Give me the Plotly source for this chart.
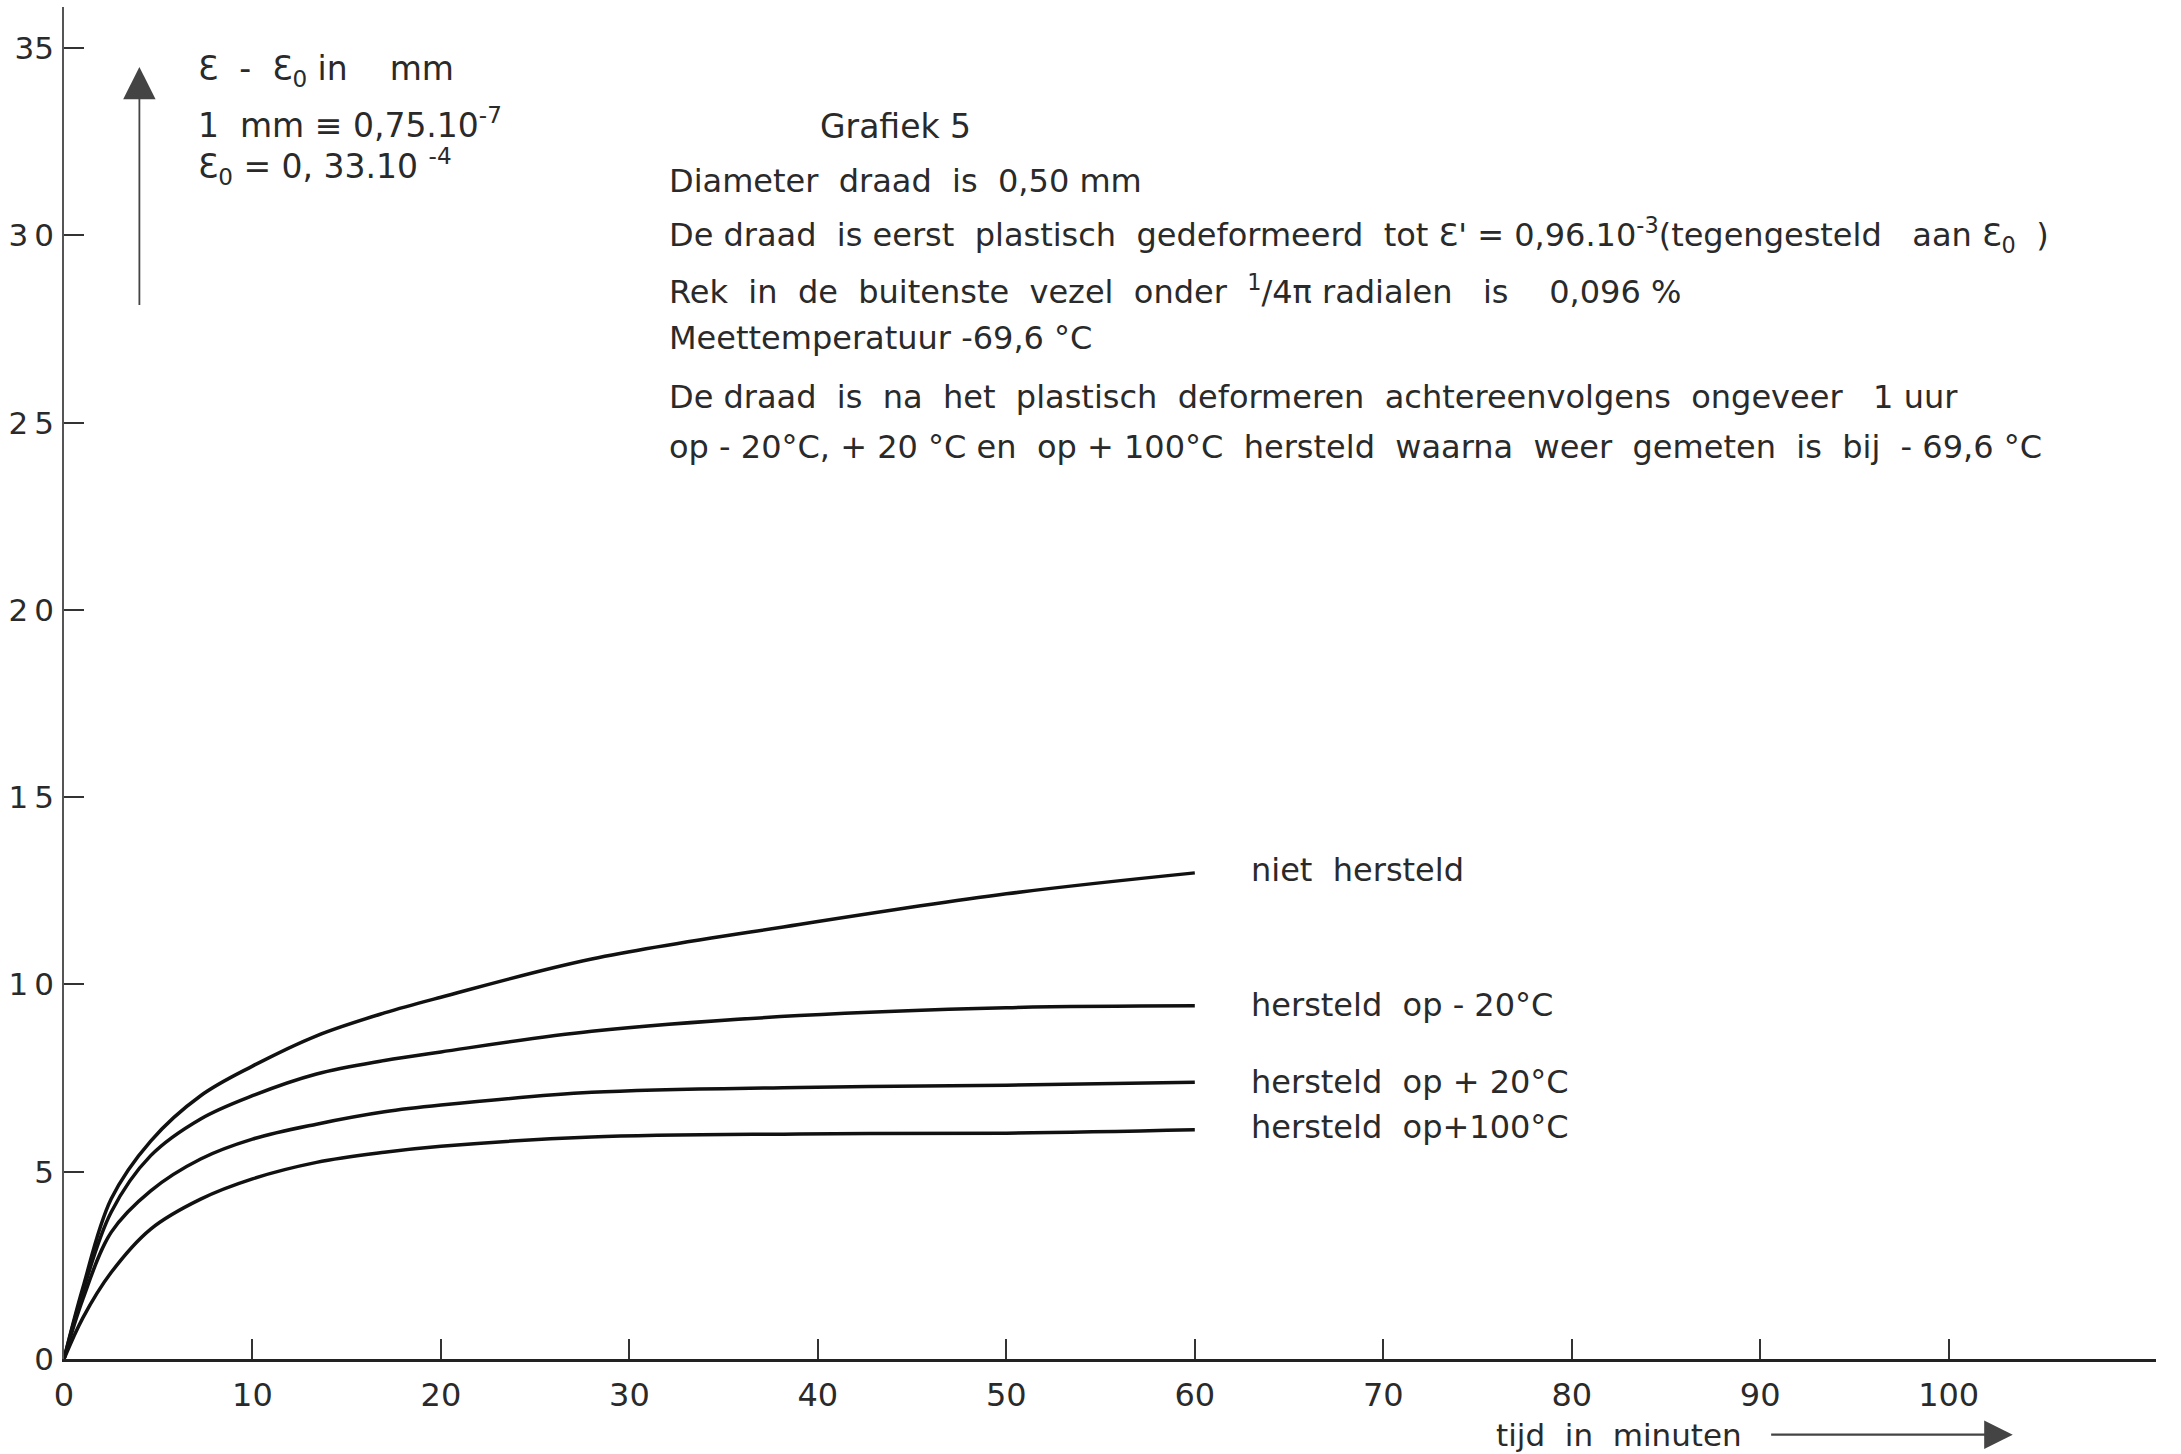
import plotly.graph_objects as go

# Time axis (minutes) at which the curves are sampled
tijd = [0, 1, 2.5, 4.6, 7.25, 10, 13.4, 17, 20, 28, 39, 50, 60]

# Strain (eps - eps0) in mm for each treatment
niet_hersteld = [0, 1.9, 4.27, 5.82, 7.03, 7.82, 8.63, 9.24, 9.66, 10.68, 11.6, 12.42, 12.98]
hersteld_min20 = [0, 1.8, 3.92, 5.43, 6.41, 7.03, 7.61, 7.97, 8.2, 8.75, 9.17, 9.38, 9.43]
hersteld_plus20 = [0, 1.6, 3.38, 4.49, 5.34, 5.87, 6.27, 6.6, 6.78, 7.12, 7.25, 7.31, 7.39]
hersteld_plus100 = [0, 1.1, 2.31, 3.47, 4.27, 4.81, 5.25, 5.52, 5.68, 5.93, 6.01, 6.03, 6.12]

series = [
    ("niet  hersteld", niet_hersteld, 13.06),
    ("hersteld  op - 20°C", hersteld_min20, 9.45),
    ("hersteld  op + 20°C", hersteld_plus20, 7.40),
    ("hersteld  op+100°C", hersteld_plus100, 6.19),
]

x_ticks = [0, 10, 20, 30, 40, 50, 60, 70, 80, 90, 100]
y_ticks = [0, 5, 10, 15, 20, 25, 30, 35]
y_ticktext = ["0", "5", "1\u20090", "1\u20095", "2\u20090", "2\u20095", "3\u20090", "35"]

FONT = "DejaVu Sans"
INK = "#2a2a2a"

# vertical position (paper units) of the time-axis caption, below the plot
X_CAPTION_Y = -0.056

fig = go.Figure()

for name, vals, label_y in series:
    fig.add_trace(go.Scatter(
        x=tijd, y=vals, mode="lines", name=name, showlegend=False,
        line=dict(color="#111111", width=3.5, shape="spline", smoothing=1.0),
        hoverinfo="skip",
    ))
    fig.add_annotation(
        x=62.9, y=label_y, text=name, showarrow=False, xanchor="left",
        yanchor="middle", font=dict(family=FONT, size=32, color=INK),
    )

# Descriptive text block
fig.add_annotation(x=44.1, y=32.9, text="Grafiek 5", showarrow=False,
                   xanchor="center", yanchor="middle",
                   font=dict(family=FONT, size=33, color=INK))

info_lines = [
    (31.46, "Diameter  draad  is  0,50 mm"),
    (30.01, "De draad  is eerst  plastisch  gedeformeerd  tot Ɛ' = 0,96.10<sup>-3</sup>(tegengesteld   aan Ɛ<sub>0</sub>  )"),
    (28.54, "Rek  in  de  buitenste  vezel  onder  <sup>1</sup>/4π radialen   is    0,096 %"),
    (27.26, "Meettemperatuur -69,6 °C"),
    (25.69, "De draad  is  na  het  plastisch  deformeren  achtereenvolgens  ongeveer   1 uur"),
    (24.35, "op - 20°C, + 20 °C en  op + 100°C  hersteld  waarna  weer  gemeten  is  bij  - 69,6 °C"),
]
for yv, txt in info_lines:
    fig.add_annotation(x=32.0, y=yv, text=txt, showarrow=False,
                       xanchor="left", yanchor="middle",
                       font=dict(family=FONT, size=32, color=INK))

# Y quantity label with upward arrow
fig.add_annotation(x=4.0, y=34.5, ax=4.0, ay=28.1, axref="x", ayref="y",
                   xref="x", yref="y", text="", showarrow=True,
                   arrowhead=2, arrowsize=3.6, arrowwidth=1.8,
                   arrowcolor="#444444", standoff=0, startstandoff=0)
y_label_lines = [
    (34.4, "Ɛ  -  Ɛ<sub>0</sub> in    mm"),
    (33.0, "1  mm ≡ 0,75.10<sup>-7</sup>"),
    (31.85, "Ɛ<sub>0</sub> = 0, 33.10 <sup>-4</sup>"),
]
for yv, txt in y_label_lines:
    fig.add_annotation(x=7.0, y=yv, text=txt, showarrow=False,
                       xanchor="left", yanchor="middle",
                       font=dict(family=FONT, size=33, color=INK))

# X quantity label with arrow to the right
fig.add_annotation(x=75.9, y=X_CAPTION_Y, xref="x", yref="paper",
                   text="tijd  in  minuten", showarrow=False,
                   xanchor="left", yanchor="middle",
                   font=dict(family=FONT, size=31, color=INK))
fig.add_annotation(x=103.4, y=X_CAPTION_Y, xref="x", yref="paper",
                   ax=90.5, axref="x", ay=0, ayref="pixel",
                   text="", showarrow=True,
                   arrowhead=2, arrowsize=2.6, arrowwidth=2.2,
                   arrowcolor="#444444", standoff=0, startstandoff=0)

fig.update_xaxes(
    range=[0, 111], tickvals=x_ticks, ticktext=[str(v) for v in x_ticks],
    showgrid=False, zeroline=False, showline=True, linecolor="#222222",
    linewidth=2.5, ticks="inside", ticklen=20, tickwidth=1.5,
    tickcolor="#333333", tickfont=dict(family=FONT, size=32, color=INK),
    ticklabelstandoff=6,
)
fig.update_yaxes(
    range=[0, 36.1], tickvals=y_ticks, ticktext=y_ticktext,
    showgrid=False, zeroline=False, showline=True, linecolor="#555555",
    linewidth=1.5, ticks="inside", ticklen=20, tickwidth=1.5,
    tickcolor="#333333", tickfont=dict(family=FONT, size=31, color=INK),
    ticklabelstandoff=2,
)

fig.update_layout(
    width=2181, height=1454,
    margin=dict(l=64, r=25, t=7, b=95),
    paper_bgcolor="white", plot_bgcolor="white",
    showlegend=False,
)

fig.write_html("out.html")
